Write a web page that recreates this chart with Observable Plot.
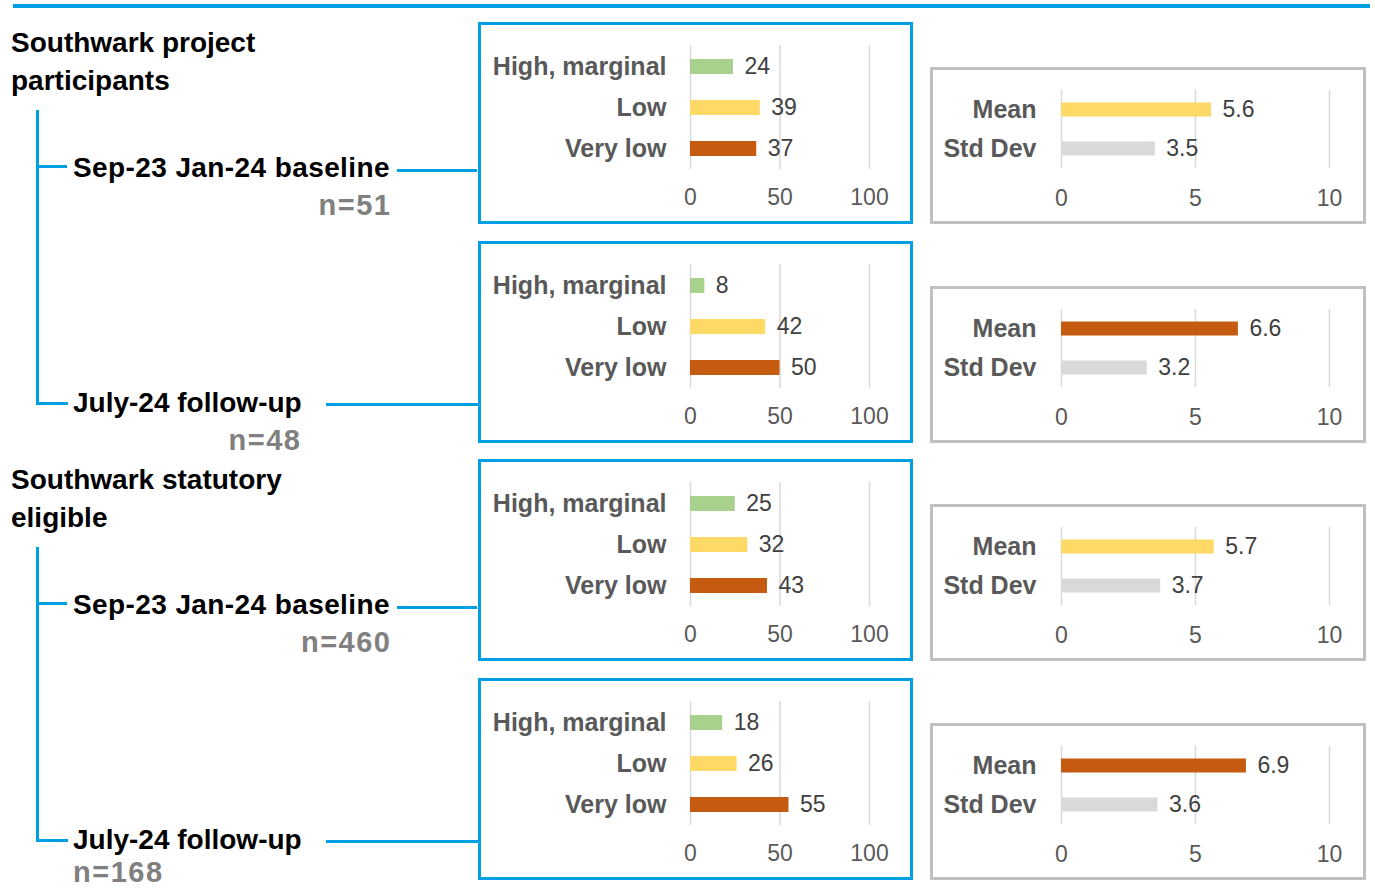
<!DOCTYPE html>
<html>
<head>
<meta charset="utf-8">
<script src="https://cdn.jsdelivr.net/npm/d3@7"></script>
<script src="https://cdn.jsdelivr.net/npm/@observablehq/plot@0.6"></script>
<style>
  html, body { margin: 0; padding: 0; background: #ffffff; }
  #page { position: relative; width: 1375px; height: 889px; overflow: hidden; font-family: "Liberation Sans", Arial, sans-serif; }
  .abs { position: absolute; }
  .lbl { position: absolute; white-space: nowrap; font-size: 28px; line-height: 20px; font-weight: bold; }
  .box { position: absolute; box-sizing: border-box; }
  svg { overflow: visible; }
</style>
</head>
<body>
<div id="page"></div>
<script>
// ---------- data ----------
const categories = ["High, marginal", "Low", "Very low"];
const statLabels = ["Mean", "Std Dev"];
const groupTitles = [["Southwark project", "participants"], ["Southwark statutory", "eligible"]];
const waveLabels = ["Sep-23 Jan-24 baseline", "July-24 follow-up"];
const sampleSizes = ["n=51", "n=48", "n=460", "n=168"];

const projBaselinePct = [24, 39, 37];
const projFollowupPct = [8, 42, 50];
const statBaselinePct = [25, 32, 43];
const statFollowupPct = [18, 26, 55];

const projBaselineStats = [5.6, 3.5];
const projFollowupStats = [6.6, 3.2];
const statBaselineStats = [5.7, 3.7];
const statFollowupStats = [6.9, 3.6];

const pctTicks = [0, 50, 100];
const scoreTicks = [0, 5, 10];

const categoryColors = ["#a9d18e", "#ffd966", "#c55a11"];
const meanColors = ["#ffd966", "#c55a11"]; // baseline, follow-up
const sdColor = "#d9d9d9";

const BLUE = "#009fe3";
const BOXGRAY = "#c0c0c0";

const panels = [
  {pct: projBaselinePct, stats: projBaselineStats, wave: 0},
  {pct: projFollowupPct, stats: projFollowupStats, wave: 1},
  {pct: statBaselinePct, stats: statBaselineStats, wave: 0},
  {pct: statFollowupPct, stats: statFollowupStats, wave: 1}
];
const blueTops = [22, 241, 459, 678];
const grayTops = [67, 286, 504, 723];

const page = document.getElementById("page");

function rect(x, y, w, h, color) {
  const d = document.createElement("div");
  d.className = "abs";
  Object.assign(d.style, {left: x + "px", top: y + "px", width: w + "px", height: h + "px", background: color});
  page.appendChild(d);
}
// baseline-positioned label
function label(text, x, baseline, color, align, extra) {
  const d = document.createElement("div");
  d.className = "lbl";
  d.textContent = text;
  const fs = (extra && extra.fontSize) || 28;
  d.style.fontSize = fs + "px";
  d.style.top = (baseline - ((20 - 1.117 * fs) / 2 + 0.905 * fs)) + "px";
  d.style.color = color;
  if (extra && extra.letterSpacing) d.style.letterSpacing = extra.letterSpacing + "px";
  if (align === "right") { d.style.right = (1375 - x) + "px"; }
  else { d.style.left = x + "px"; }
  page.appendChild(d);
}

const chartStyle = {fontFamily: "Liberation Sans, Arial, sans-serif", background: "transparent", overflow: "visible"};

function pctChart(values) {
  const data = categories.map((c, i) => ({cat: c, value: values[i], color: categoryColors[i]}));
  return Plot.plot({
    width: 429, height: 196,
    marginLeft: 209, marginRight: 41, marginTop: 20, marginBottom: 52,
    x: {domain: [0, 100]},
    y: {domain: categories, padding: 0},
    style: chartStyle,
    marks: [
      Plot.gridX(pctTicks, {stroke: "#d9d9d9", strokeOpacity: 1, strokeWidth: 1.5}),
      Plot.axisX(pctTicks, {tickSize: 0, tickPadding: 19, fontSize: 23, color: "#595959", label: null}),
      Plot.axisY({tickSize: 0, tickPadding: 24, fontSize: 25, fontWeight: "bold", color: "#595959", label: null}),
      Plot.barX(data, {x: "value", y: "cat", fill: "color", insetTop: 13, insetBottom: 13}),
      Plot.text(data, {x: "value", y: "cat", text: d => String(d.value), dx: 11, textAnchor: "start", fontSize: 23, fill: "#404040"})
    ]
  });
}

function statChart(values, wave) {
  const data = statLabels.map((c, i) => ({cat: c, value: values[i], color: i === 0 ? meanColors[wave] : sdColor}));
  return Plot.plot({
    width: 430, height: 151,
    marginLeft: 128, marginRight: 34, marginTop: 20, marginBottom: 53,
    x: {domain: [0, 10]},
    y: {domain: statLabels, padding: 0},
    style: chartStyle,
    marks: [
      Plot.gridX(scoreTicks, {stroke: "#d9d9d9", strokeOpacity: 1, strokeWidth: 1.5}),
      Plot.axisX(scoreTicks, {tickSize: 0, tickPadding: 21, fontSize: 23, color: "#595959", label: null}),
      Plot.axisY({tickSize: 0, tickPadding: 25, fontSize: 25, fontWeight: "bold", color: "#595959", label: null}),
      Plot.barX(data, {x: "value", y: "cat", fill: "color", insetTop: 12.5, insetBottom: 12.5}),
      Plot.text(data, {x: "value", y: "cat", text: d => d.value.toFixed(1), dx: 11, textAnchor: "start", fontSize: 23, fill: "#404040"})
    ]
  });
}

// top rule
rect(13, 4, 1357, 4, BLUE);

// panels
panels.forEach((p, i) => {
  const bt = blueTops[i];
  const bb = document.createElement("div");
  bb.className = "box";
  Object.assign(bb.style, {left: "478px", top: bt + "px", width: "435px", height: "202px", border: "3px solid " + BLUE});
  page.appendChild(bb);
  const c1 = pctChart(p.pct);
  c1.style.position = "absolute"; c1.style.left = "481px"; c1.style.top = (bt + 3) + "px";
  page.appendChild(c1);

  const gt = grayTops[i];
  const gb = document.createElement("div");
  gb.className = "box";
  Object.assign(gb.style, {left: "930px", top: gt + "px", width: "436px", height: "157px", border: "3px solid " + BOXGRAY});
  page.appendChild(gb);
  const c2 = statChart(p.stats, p.wave);
  c2.style.position = "absolute"; c2.style.left = "933px"; c2.style.top = (gt + 3) + "px";
  page.appendChild(c2);
});

// left tree for both groups
[0, 1].forEach(g => {
  const off = g === 0 ? 0 : 436.5;
  label(groupTitles[g][0], 11, 53 + off, "#000000");
  label(groupTitles[g][1], 11, 91 + off, "#000000");
  // vertical stem
  rect(36, 110 + off, 3, 295, BLUE);
  // baseline branch
  rect(36, 165 + off, 31, 3, BLUE);
  label(waveLabels[0], 73, 178 + off, "#000000", "left", {letterSpacing: 0.4});
  rect(397, 169 + off, 80, 3, BLUE);
  // follow-up elbow
  rect(36, 402 + off, 32, 3, BLUE);
  label(waveLabels[1], 73, 413 + off, "#000000");
  rect(326, 403 + off, 152, 3, BLUE);
});
const nStyle = {fontSize: 29, letterSpacing: 1.5};
label(sampleSizes[0], 391.5, 215, "#808080", "right", nStyle);
label(sampleSizes[1], 301.5, 450, "#808080", "right", nStyle);
label(sampleSizes[2], 391.5, 652, "#808080", "right", nStyle);
label(sampleSizes[3], 73, 882, "#808080", "left", nStyle);
</script>
</body>
</html>
